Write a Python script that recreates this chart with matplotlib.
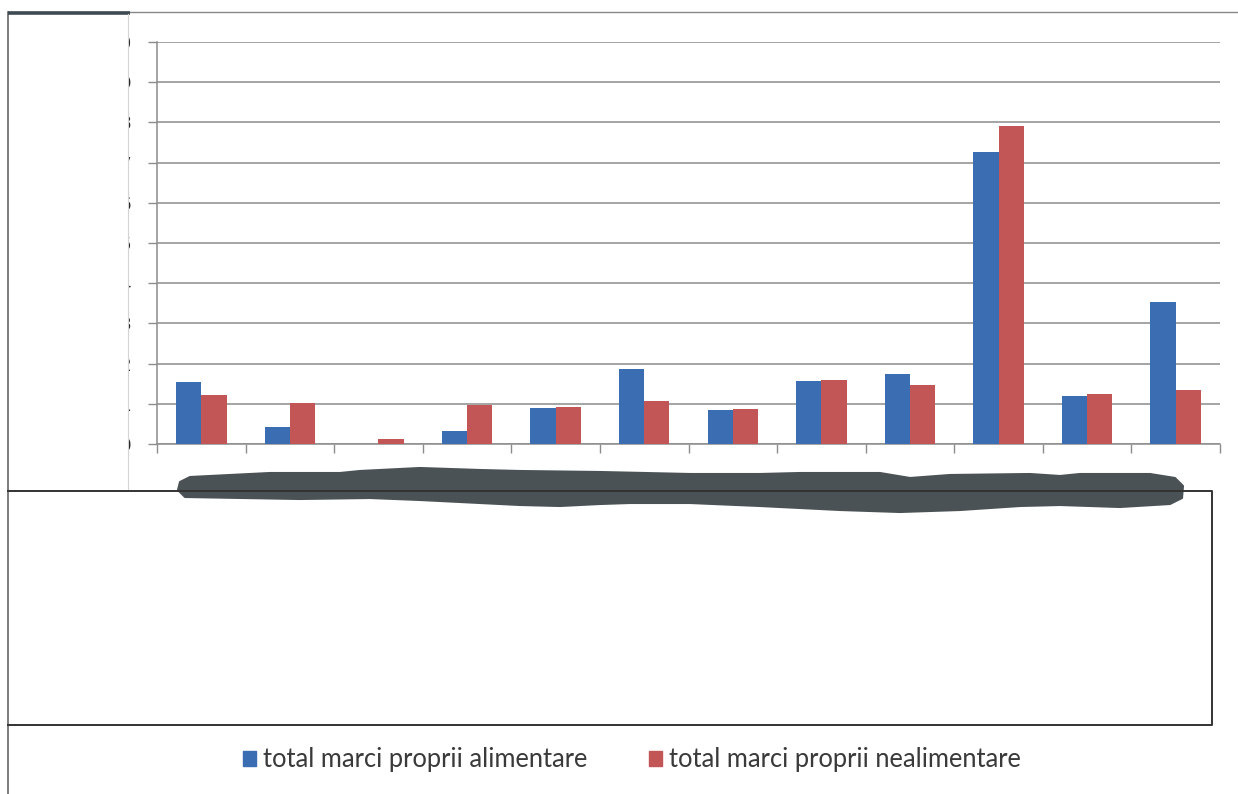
import numpy as np
import matplotlib.pyplot as plt
from matplotlib.lines import Line2D
from matplotlib.patches import Patch, Polygon
from matplotlib.transforms import Bbox, TransformedBbox

# totals per category, in grid units (axis 0..10)
alimentare = [1.54, 0.42, 0.0, 0.32, 0.90, 1.87, 0.85, 1.57, 1.74, 7.27, 1.19, 3.52]
nealimentare = [1.22, 1.02, 0.12, 0.97, 0.92, 1.07, 0.87, 1.60, 1.46, 7.92, 1.24, 1.34]
y_ticks = list(range(0, 11))
series_names = ["total marci proprii alimentare", "total marci proprii nealimentare"]

BLUE = "#3b6db3"
RED = "#c25555"
GRID = "#8c8c8c"

W, H = 1238, 794


def px(x, y):
    # page pixel (from top-left) -> figure fraction
    return x / W, 1 - y / H


def fig_line(fig, xs, ys, **kw):
    pts = [px(a, b) for a, b in zip(xs, ys)]
    fig.add_artist(Line2D([p[0] for p in pts], [p[1] for p in pts],
                          transform=fig.transFigure, **kw))


fig = plt.figure(figsize=(W / 100, H / 100), dpi=100)
fig.patch.set_facecolor("white")

ax = fig.add_axes([157 / W, 1 - 444 / H, (1220 - 157) / W, (444 - 42) / H])

x = np.arange(len(alimentare))
w = 0.285
ax.bar(x - w / 2, alimentare, w, color=BLUE, zorder=3)
ax.bar(x + w / 2, nealimentare, w, color=RED, zorder=3)

ax.set_xlim(-0.5, len(x) - 0.5)
ax.set_ylim(0, 10)
ax.set_yticks(y_ticks)
ax.set_yticklabels([str(v) for v in y_ticks])
ax.set_xticks(np.arange(len(x) + 1) - 0.5)
ax.set_xticklabels([])
ax.yaxis.grid(True, color=GRID, lw=1.1)
ax.set_axisbelow(True)

ax.tick_params(axis="x", length=6.5, width=1, color=GRID)
ax.tick_params(axis="y", length=6.5, width=1, color=GRID, pad=12.2,
               labelsize=12, labelcolor="#222222")
for s in ("top", "right"):
    ax.spines[s].set_visible(False)
for s in ("left", "bottom"):
    ax.spines[s].set_color(GRID)
    ax.spines[s].set_linewidth(1.1)

# y labels are cut at the left edge of the chart image
clip = TransformedBbox(Bbox.from_extents(129 / W, 0, 160 / W, 1), fig.transFigure)
for t in ax.yaxis.get_major_ticks():
    t.label1.set_clip_box(clip)
    t.label1.set_clip_on(True)

# page frame
fig_line(fig, [8, 8], [12, 794], color="#666666", lw=1.2)
fig_line(fig, [8, 1238], [12, 12], color="#888888", lw=1.0)
fig_line(fig, [8, 130], [12.5, 12.5], color="#3f4b52", lw=2.6, solid_capstyle="butt")
fig_line(fig, [128, 128], [14, 490], color="#d4d4d4", lw=0.8)

# marker strike over the category labels
top = [(180, 482), (190, 477), (270, 473), (340, 473), (360, 471), (420, 468),
       (480, 470), (520, 471), (600, 472), (690, 474), (760, 474), (800, 473),
       (880, 473), (910, 478), (950, 475), (1030, 474), (1060, 476), (1080, 474),
       (1150, 474), (1175, 478), (1183, 486)]
bottom = [(1182, 498), (1170, 504), (1120, 507), (1060, 505), (1020, 506),
          (960, 510), (900, 512), (840, 510), (760, 506), (690, 503), (630, 503),
          (600, 504), (560, 506), (520, 505), (480, 503), (420, 500), (370, 498),
          (300, 499), (185, 497), (178, 490)]
fig.add_artist(Polygon([px(a, b) for a, b in top + bottom], closed=True,
                       transform=fig.transFigure, facecolor="#4b5255",
                       edgecolor="#4b5255", lw=1.5, joinstyle="round"))

# empty box below the chart
fig_line(fig, [8, 1212, 1212, 8], [491, 491, 725, 725], color="#333333", lw=1.4)

handles = [Patch(color=BLUE, label=series_names[0]),
           Patch(color=RED, label=series_names[1])]
leg = fig.legend(handles=handles, loc="center", bbox_to_anchor=px(632, 760),
                 ncol=2, frameon=False, prop={"family": "Lato", "size": 18.4},
                 handlelength=0.5, handleheight=0.5, handletextpad=0.3,
                 columnspacing=2.4)
for t in leg.get_texts():
    t.set_color("#3a3a3a")

fig.savefig("out.png", dpi=100, facecolor="white")
